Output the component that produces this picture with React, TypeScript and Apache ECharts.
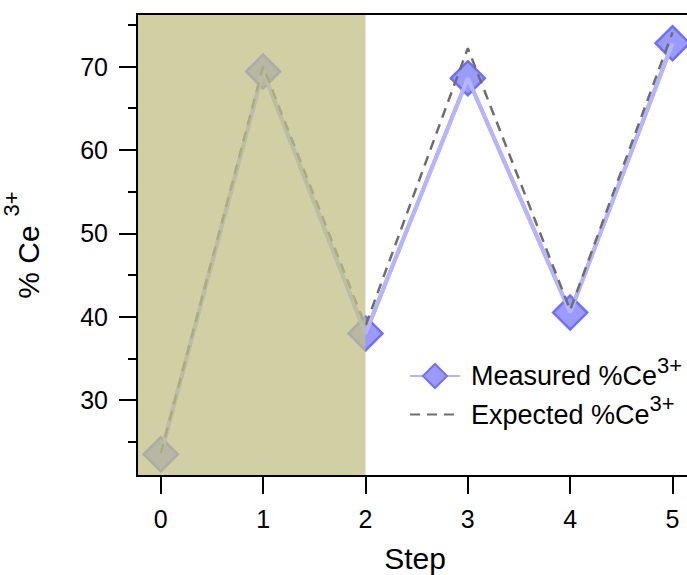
import React, { useEffect, useRef } from "react";
import * as echarts from "echarts";

const steps = [0, 1, 2, 3, 4, 5];
const measured = [23.5, 69.4, 38.0, 68.6, 40.5, 72.8];
const expected = [23.6, 70.0, 38.9, 72.2, 40.8, 74.1];
const xTicks = [0, 1, 2, 3, 4, 5];
const yMajorTicks = [30, 40, 50, 60, 70];
const yMinorTicks = [25, 35, 45, 55, 65, 75];
const shadedRange = [-0.232, 2];

const FONT = "'Liberation Sans', Arial, sans-serif";
const X_MIN = -0.232;
const X_MAX = 5.2;
const Y_MIN = 20.9;
const Y_MAX = 76.3;

export default function App() {
  const ref = useRef<HTMLDivElement>(null);
  useEffect(() => {
    if (!ref.current) return;
    const chart = echarts.init(ref.current, undefined, { renderer: "svg" });
    const measuredData = steps.map((s, i) => [s, measured[i]]);
    const expectedData = steps.map((s, i) => [s, expected[i]]);
    const lineBlue = "#b4b4ff";
    chart.setOption({
      animation: false,
      backgroundColor: "#ffffff",
      textStyle: { fontFamily: FONT },
      grid: {
        left: 137,
        top: 14,
        width: 556,
        height: 462,
        show: true,
        borderColor: "#000",
        borderWidth: 2,
        backgroundColor: "transparent",
        containLabel: false,
        outerBoundsMode: "none",
        z: 20,
      },
      legend: {
        left: 409,
        top: 354,
        orient: "vertical",
        itemWidth: 50,
        itemHeight: 30,
        itemGap: 3,
        padding: 0,
        selectedMode: false,
        data: [
          { name: "Measured %Ce" },
          { name: "Expected %Ce", itemStyle: { opacity: 0 } },
        ],
        formatter: (name: string) => `{m|${name}}{s|3+}`,
        textStyle: {
          color: "#000",
          fontFamily: FONT,
          padding: [0, 0, 0, 6],
          rich: {
            m: { fontSize: 27, lineHeight: 44, fontFamily: FONT, color: "#000" },
            s: { fontSize: 22, lineHeight: 22, verticalAlign: "top", fontFamily: FONT, color: "#000" },
          },
        },
      },
      xAxis: {
        type: "value",
        min: X_MIN,
        max: X_MAX,
        name: "Step",
        nameLocation: "middle",
        nameGap: 67,
        nameTextStyle: { fontSize: 30, color: "#000", fontFamily: FONT },
        axisLine: { show: true, onZero: false, lineStyle: { color: "#000", width: 2 } },
        axisTick: {
          show: true,
          customValues: xTicks,
          length: 18,
          lineStyle: { color: "#000", width: 2 },
        },
        axisLabel: {
          customValues: xTicks,
          fontSize: 25,
          color: "#000",
          margin: 30,
          fontFamily: FONT,
        },
        splitLine: { show: false },
        z: 21,
      },
      yAxis: [
        {
          type: "value",
          min: Y_MIN,
          max: Y_MAX,
          position: "left",
          name: "{a|% Ce}{s|3+}",
          nameLocation: "middle",
          nameRotate: 90,
          nameGap: 81,
          nameTextStyle: {
            color: "#000",
            rich: {
              a: { fontSize: 30, lineHeight: 56, fontFamily: FONT, color: "#000" },
              s: { fontSize: 22, lineHeight: 22, verticalAlign: "top", fontFamily: FONT, color: "#000", padding: [0, 0, 0, 9] },
            },
          },
          axisLine: { show: true, onZero: false, lineStyle: { color: "#000", width: 2 } },
          axisTick: {
            show: true,
            customValues: yMajorTicks,
            length: 18,
            lineStyle: { color: "#000", width: 2 },
          },
          axisLabel: {
            customValues: yMajorTicks,
            fontSize: 25,
            color: "#000",
            margin: 29,
            fontFamily: FONT,
          },
          splitLine: { show: false },
          z: 21,
        },
        {
          type: "value",
          min: Y_MIN,
          max: Y_MAX,
          position: "left",
          axisLine: { show: false, onZero: false },
          axisTick: {
            show: true,
            customValues: yMinorTicks,
            length: 9,
            lineStyle: { color: "#000", width: 2 },
          },
          axisLabel: { show: false },
          splitLine: { show: false },
          z: 21,
        },
      ],
      series: [
        {
          type: "line",
          name: "Measured %Ce",
          data: measuredData,
          symbol: "diamond",
          symbolSize: 34,
          itemStyle: { color: "#9a9aff", borderColor: "#6f6fff", borderWidth: 2.5 },
          lineStyle: { color: lineBlue, width: 4 },
          z: 2,
        },
        {
          type: "line",
          name: "measured-line",
          data: measuredData,
          symbol: "none",
          silent: true,
          lineStyle: { color: lineBlue, width: 4 },
          z: 3,
        },
        {
          type: "line",
          name: "Expected %Ce",
          data: expectedData,
          symbol: "none",
          itemStyle: { color: "rgba(0,0,0,0)" },
          lineStyle: { color: "#6e6e6e", width: 2.5, type: [10, 7] },
          z: 4,
        },
        {
          type: "custom",
          name: "shade",
          silent: true,
          z: 10,
          data: [[shadedRange[0], shadedRange[1]]],
          encode: { x: [0, 1] },
          renderItem: (params: any, api: any) => {
            const cs = params.coordSys;
            const x0 = api.coord([api.value(0), Y_MIN])[0];
            const x1 = api.coord([api.value(1), Y_MIN])[0];
            return {
              type: "rect",
              shape: { x: x0, y: cs.y, width: x1 - x0, height: cs.height },
              style: { fill: "rgba(192,192,134,0.75)" },
            };
          },
        },
      ],
    });
    return () => chart.dispose();
  }, []);
  return (
    <div
      ref={ref}
      style={{ position: "fixed", left: 0, top: 0, width: 687, height: 575 }}
    />
  );
}
